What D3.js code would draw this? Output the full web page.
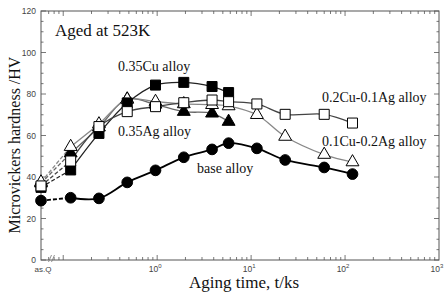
<!DOCTYPE html>
<html>
<head>
<meta charset="utf-8">
<script src="https://cdn.jsdelivr.net/npm/d3@7"></script>
<style>
  body { margin: 0; background: #fff; }
  svg { display: block; }
</style>
</head>
<body>
<div id="chart"></div>
<script>
// aging times (ks) after the as-quenched point
const times = [0.12, 0.24, 0.48, 0.96, 1.92, 3.84, 5.76, 11.52, 23.04, 60, 120];
const yTicks = [0, 20, 40, 60, 80, 100, 120];
const xDecades = [1, 10, 100, 1000];

// hardness values: asQ first, then one per aging time
const baseAlloy = [28.6, 30, 29.7, 37.4, 43.2, 49.5, 53.3, 56.3, 53.8, 48.2, 44.6, 41.4];
const cu035 = [35, 43.4, 61, 75.7, 84.3, 85.6, 83.6, 80.7];
const ag035 = [37, 51.5, 64, 77.5, 75, 71.5, 70.7, 66.7];
const cu02ag01 = [35.7, 47.7, 64.3, 71.5, 73.9, 75.8, 77.1, 76.3, 75.2, 70.2, 70.2, 66];
const cu01ag02 = [37.5, 54.6, 65.5, 77.4, 76.3, 75.2, 74.8, 74.2, 70, 59.5, 50.8, 47.2];

const width = 448, height = 293;
const margin = { top: 11, right: 9, bottom: 33, left: 41 };

const svg = d3.select("#chart").append("svg")
  .attr("width", width)
  .attr("height", height);

const x = d3.scaleLog()
  .domain([0.058, 1000])
  .range([margin.left, width - margin.right]);

const y = d3.scaleLinear()
  .domain([0, 120])
  .range([height - margin.bottom, margin.top]);

const x0 = x.domain()[0];
const x1 = x.domain()[1];
const serif = "'Liberation Serif', 'Times New Roman', serif";
const sans = "'Liberation Sans', Arial, sans-serif";

// frame
svg.append("rect")
  .attr("x", x(x0))
  .attr("y", y(120))
  .attr("width", x(x1) - x(x0))
  .attr("height", y(0) - y(120))
  .attr("fill", "none")
  .attr("stroke", "#555")
  .attr("stroke-width", 1);

// log ticks on bottom and top
const logTicks = [];
for (let e = -2; e <= 3; e++) {
  for (let m = 1; m <= 9; m++) {
    const v = m * Math.pow(10, e);
    if (v > x0 * 1.05 && v < x1) logTicks.push({ v, major: m === 1 });
  }
}
const tickG = svg.append("g").attr("stroke", "#555").attr("stroke-width", 0.8);
logTicks.forEach(t => {
  const len = t.major ? 5 : 3;
  tickG.append("line")
    .attr("x1", x(t.v)).attr("x2", x(t.v))
    .attr("y1", y(0)).attr("y2", y(0) - len);
  tickG.append("line")
    .attr("x1", x(t.v)).attr("x2", x(t.v))
    .attr("y1", y(120)).attr("y2", y(120) + len);
});

// y ticks, left and right
d3.range(0, 121, 5).forEach(v => {
  const major = v % 20 === 0;
  const len = major ? 5 : 2.5;
  tickG.append("line")
    .attr("x1", x(x0)).attr("x2", x(x0) + len)
    .attr("y1", y(v)).attr("y2", y(v));
  tickG.append("line")
    .attr("x1", x(x1)).attr("x2", x(x1) - len)
    .attr("y1", y(v)).attr("y2", y(v));
});

// y tick labels
svg.append("g").selectAll("text")
  .data(yTicks)
  .join("text")
  .attr("x", x(x0) - 5)
  .attr("y", d => y(d) + 3)
  .attr("text-anchor", "end")
  .attr("font-family", sans)
  .attr("font-size", "8.5px")
  .attr("fill", "#444")
  .text(d => d);

// x decade labels 10^n
const xl = svg.append("g").selectAll("text")
  .data(xDecades)
  .join("text")
  .attr("x", d => x(d) - 2)
  .attr("y", y(0) + 12)
  .attr("text-anchor", "middle")
  .attr("font-family", sans)
  .attr("font-size", "8.5px")
  .attr("fill", "#444");
xl.append("tspan").text("10");
xl.append("tspan")
  .attr("dy", -4)
  .attr("font-size", "6px")
  .text(d => Math.round(Math.log10(d)));

svg.append("text")
  .attr("x", x(x0) + 2)
  .attr("y", y(0) + 12)
  .attr("text-anchor", "middle")
  .attr("font-family", sans)
  .attr("font-size", "8px")
  .attr("fill", "#444")
  .text("as.Q");

// axis break marks
const brk = svg.append("g").attr("stroke", "#777").attr("stroke-width", 0.8);
[-1.5, 1.5].forEach(dx => {
  brk.append("line")
    .attr("x1", x(x0) + 9 + dx).attr("x2", x(x0) + 12 + dx)
    .attr("y1", y(0) + 2).attr("y2", y(0) - 5);
});

// axis titles
svg.append("text")
  .attr("x", 244)
  .attr("y", 288)
  .attr("text-anchor", "middle")
  .attr("font-family", serif)
  .attr("font-size", "17px")
  .attr("fill", "#111")
  .text("Aging time, t/ks");

svg.append("text")
  .attr("transform", "translate(20, 145) rotate(-90)")
  .attr("text-anchor", "middle")
  .attr("font-family", serif)
  .attr("font-size", "16px")
  .attr("fill", "#111")
  .text("Microvickers hardness /HV");

// series definitions
const series = [
  { name: "0.35Ag alloy", vals: ag035, shape: "triangle", fill: "#000", line: "#666", w: 1.3 },
  { name: "0.1Cu-0.2Ag alloy", vals: cu01ag02, shape: "triangle", fill: "#fff", line: "#888", w: 1.3 },
  { name: "0.35Cu alloy", vals: cu035, shape: "square", fill: "#000", line: "#222", w: 1.3 },
  { name: "0.2Cu-0.1Ag alloy", vals: cu02ag01, shape: "square", fill: "#fff", line: "#444", w: 1.3 },
  { name: "base alloy", vals: baseAlloy, shape: "circle", fill: "#000", line: "#000", w: 1.8 }
];

series.forEach(s => {
  s.pts = s.vals.map((v, i) => ({ t: i === 0 ? x0 : times[i - 1], v }));
});

const line = d3.line()
  .x(d => x(d.t))
  .y(d => y(d.v))
  .curve(d3.curveCatmullRom.alpha(0.5));

const lines = svg.append("g").attr("fill", "none");
series.forEach(s => {
  // dashed segment from as-quenched to first aging point
  lines.append("path")
    .attr("d", d3.line().x(d => x(d.t)).y(d => y(d.v))(s.pts.slice(0, 2)))
    .attr("stroke", s.line)
    .attr("stroke-width", s.w)
    .attr("stroke-dasharray", "4,2");
  lines.append("path")
    .attr("d", line(s.pts.slice(1)))
    .attr("stroke", s.line)
    .attr("stroke-width", s.w);
});

const symbols = {
  circle: d3.symbol().type(d3.symbolCircle).size(90),
  square: d3.symbol().type(d3.symbolSquare).size(100),
  triangle: d3.symbol().type(d3.symbolTriangle).size(72)
};

series.forEach(s => {
  svg.append("g").selectAll("path")
    .data(s.pts)
    .join("path")
    .attr("transform", d => `translate(${x(d.t)},${y(d.v)})`)
    .attr("d", symbols[s.shape])
    .attr("fill", s.fill)
    .attr("stroke", "#000")
    .attr("stroke-width", 1);
});

// annotations
const notes = [
  { text: "Aged at 523K", x: 55, y: 36, size: 17 },
  { text: "0.35Cu alloy", x: 118, y: 71, size: 14 },
  { text: "0.35Ag alloy", x: 118, y: 136, size: 14 },
  { text: "base alloy", x: 197, y: 173, size: 14 },
  { text: "0.2Cu-0.1Ag alloy", x: 322, y: 102, size: 14 },
  { text: "0.1Cu-0.2Ag alloy", x: 322, y: 146, size: 14 }
];
svg.append("g").selectAll("text")
  .data(notes)
  .join("text")
  .attr("x", d => d.x)
  .attr("y", d => d.y)
  .attr("font-family", serif)
  .attr("font-size", d => d.size + "px")
  .attr("fill", "#111")
  .text(d => d.text);
</script>
</body>
</html>
